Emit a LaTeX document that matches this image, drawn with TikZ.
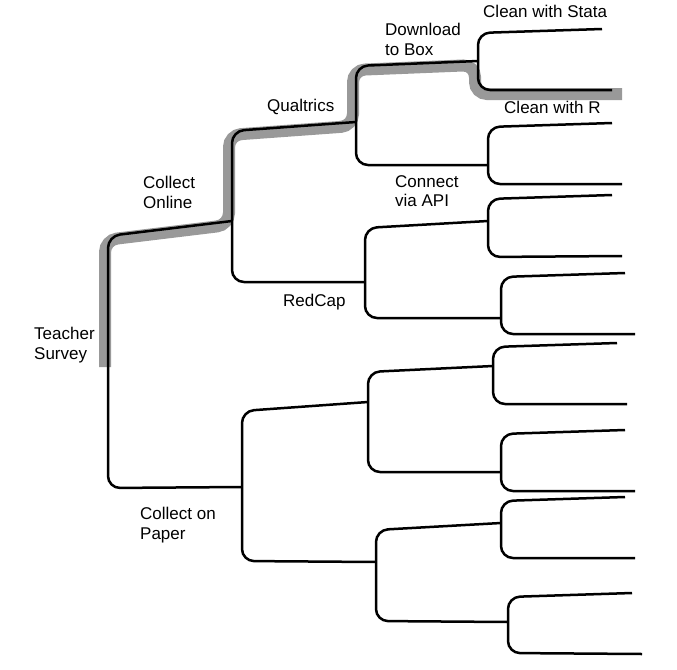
\documentclass[tikz,border=0pt]{standalone}
\usepackage{fontspec}
\setmainfont{Liberation Sans}
\begin{document}
\begin{tikzpicture}[x=1pt,y=-1pt,
  branch/.style={line width=2.5pt,rounded corners=12pt},
  chosen/.style={line width=12pt,color=black!40,rounded corners=12pt},
  lab/.style={font=\fontsize{17}{19.5}\selectfont,align=left,anchor=north west,inner sep=0pt}]
\useasboundingbox (0,0) rectangle (677,669);
\coordinate (start) at (108,363);
\coordinate (online) at (232,221);
\coordinate (paper) at (242,487);
\coordinate (qualtrics) at (356,122);
\coordinate (redcap) at (365,282);
\coordinate (box) at (478,61);
\coordinate (api) at (488,165);
\coordinate (rc1) at (488,221);
\coordinate (rc2) at (501,318);
\coordinate (p1) at (368,402);
\coordinate (p2) at (376,562);
\coordinate (p11) at (493,366);
\coordinate (p12) at (501,472);
\coordinate (p21) at (501,523);
\coordinate (p22) at (508,622);
\coordinate (stata) at (602,29);
\coordinate (rr) at (612,90);
\coordinate (rr-end) at (625,90);
\coordinate (api-a) at (612,123);
\coordinate (api-b) at (622,184);
\coordinate (rc1-a) at (612,195);
\coordinate (rc1-b) at (622,256);
\coordinate (rc2-a) at (625,273);
\coordinate (rc2-b) at (635,334);
\coordinate (p11-a) at (617,343);
\coordinate (p11-b) at (627,404);
\coordinate (p12-a) at (625,430);
\coordinate (p12-b) at (635,491);
\coordinate (p21-a) at (625,497);
\coordinate (p21-b) at (635,558);
\coordinate (p22-a) at (632,593);
\coordinate (p22-b) at (642,654);
\draw[chosen,transform canvas={shift={(-3pt,-4pt)}}] (start) -- (108,236) -- (online) -- (232,131) -- (qualtrics) -- (356,66) -- (box) -- (478,90) -- (rr-end);
\draw[branch] (online) -- (108,236) -- (108,488) -- (paper);
\draw[branch] (qualtrics) -- (232,131) -- (232,282) -- (redcap);
\draw[branch] (box) -- (356,66) -- (356,165) -- (api);
\draw[branch] (stata) -- (478,33) -- (478,90) -- (rr);
\draw[branch] (api-a) -- (488,127) -- (488,184) -- (api-b);
\draw[branch] (rc1) -- (365,228) -- (365,318) -- (rc2);
\draw[branch] (rc1-a) -- (488,199) -- (488,257) -- (rc1-b);
\draw[branch] (rc2-a) -- (501,277) -- (501,334) -- (rc2-b);
\draw[branch] (p1) -- (242,411) -- (242,561) -- (p2);
\draw[branch] (p11) -- (368,372) -- (368,472) -- (p12);
\draw[branch] (p11-a) -- (493,347) -- (493,404) -- (p11-b);
\draw[branch] (p12-a) -- (501,434) -- (501,491) -- (p12-b);
\draw[branch] (p21) -- (376,530) -- (376,621) -- (p22);
\draw[branch] (p21-a) -- (501,501) -- (501,558) -- (p21-b);
\draw[branch] (p22-a) -- (508,597) -- (508,653) -- (p22-b);
\node[lab] (stata-l) at (483,5) {Clean with Stata};
\node[lab] (box-l) at (385,23) {Download\\to Box};
\node[lab] (rr-l) at (504,101) {Clean with R};
\node[lab] (qualtrics-l) at (267,99) {Qualtrics};
\node[lab] (api-l) at (395,175) {Connect\\via API};
\node[lab] (online-l) at (143,176) {Collect\\Online};
\node[lab] (redcap-l) at (283,294) {RedCap};
\node[lab] (survey-l) at (34,327) {Teacher\\Survey};
\node[lab] (paper-l) at (140,507) {Collect on\\Paper};
\end{tikzpicture}
\end{document}
